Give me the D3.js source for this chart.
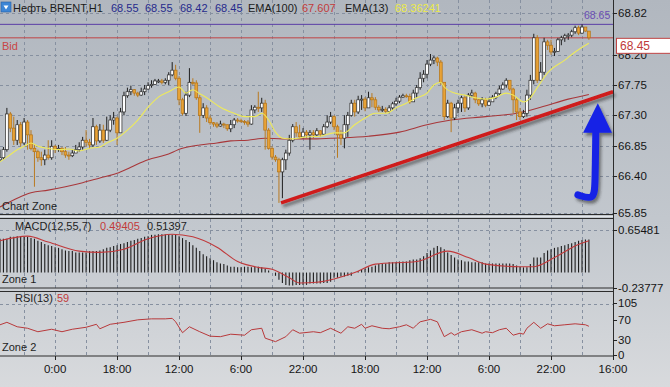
<!DOCTYPE html>
<html>
<head>
<meta charset="utf-8">
<script src="https://cdn.jsdelivr.net/npm/d3@7"></script>
<style>
  body { margin: 0; background: #c6cad0; }
  svg { display: block; }
  text { font-family: 'Liberation Sans', Arial, sans-serif; }
  .ax { font-family: 'Liberation Sans Narrow', 'Liberation Sans', Arial, sans-serif; font-size: 11.5px; fill: #151515; }
</style>
</head>
<body>
<svg id="chart" width="670" height="387"></svg>
<script>
'use strict';

// hourly bars, Brent
var firstOpen = 66.64;
var closes = [66.67, 66.79, 67.32, 67.11, 66.93, 67.16, 66.89, 67.20, 67.01, 66.81,
  66.76, 66.67, 66.64, 66.71, 66.67, 66.84, 66.79, 66.81, 66.76, 66.71,
  66.70, 66.74, 66.79, 66.83, 66.93, 66.90, 66.86, 67.13, 66.92, 67.08,
  66.93, 67.08, 67.23, 67.26, 67.04, 67.35, 67.59, 67.65, 67.68, 67.63,
  67.60, 67.65, 67.69, 67.74, 67.76, 67.81, 67.81, 67.79, 67.82, 67.90,
  67.97, 67.85, 67.53, 67.33, 67.60, 67.79, 67.78, 67.56, 67.30, 67.41,
  67.26, 67.19, 67.17, 67.14, 67.17, 67.16, 67.10, 67.16, 67.23, 67.22,
  67.21, 67.20, 67.17, 67.38, 67.42, 67.41, 67.48, 67.08, 66.81, 66.68,
  66.64, 66.46, 66.64, 66.74, 66.93, 67.13, 67.04, 66.98, 67.05, 67.01,
  67.04, 67.01, 67.07, 67.02, 67.13, 67.20, 67.28, 67.13, 67.01, 66.96,
  67.16, 67.30, 67.48, 67.35, 67.53, 67.54, 67.41, 67.56, 67.53, 67.42,
  67.38, 67.39, 67.36, 67.41, 67.47, 67.51, 67.57, 67.59, 67.58, 67.50,
  67.63, 67.71, 67.85, 67.91, 68.06, 68.12, 68.15, 68.09, 67.79, 67.28,
  67.48, 67.26, 67.41, 67.48, 67.56, 67.41, 67.60, 67.63, 67.53, 67.47,
  67.53, 67.45, 67.50, 67.57, 67.62, 67.69, 67.75, 67.82, 67.69, 67.53,
  67.35, 67.28, 67.33, 67.60, 67.82, 68.45, 67.82, 67.94, 68.39, 68.34,
  68.24, 68.25, 68.42, 68.45, 68.48, 68.49, 68.54, 68.60, 68.52, 68.61,
  68.55, 68.45];
var highs = [66.79, 66.83, 67.41, 67.35, 67.28, 67.23, 67.20, 67.26, 67.23, 67.08,
  66.87, 66.79, 66.76, 66.79, 66.93, 66.93, 66.86, 66.86, 66.83, 66.83,
  66.76, 66.79, 66.86, 66.90, 66.98, 67.08, 66.95, 67.26, 67.16, 67.17,
  67.16, 67.28, 67.30, 67.35, 67.28, 67.41, 67.65, 67.71, 67.74, 67.69,
  67.65, 67.71, 67.75, 67.79, 67.82, 67.84, 67.84, 67.84, 67.85, 67.94,
  68.09, 68.05, 67.88, 67.56, 67.65, 68.00, 67.85, 67.82, 67.60, 67.48,
  67.45, 67.30, 67.20, 67.20, 67.22, 67.19, 67.16, 67.23, 67.26, 67.26,
  67.25, 67.23, 67.23, 67.45, 67.45, 67.65, 67.56, 67.53, 67.11, 66.84,
  66.71, 66.67, 66.67, 66.79, 67.01, 67.17, 67.20, 67.16, 67.11, 67.08,
  67.08, 67.08, 67.11, 67.08, 67.17, 67.30, 67.35, 67.30, 67.16, 67.08,
  67.30, 67.35, 67.53, 67.53, 67.59, 67.60, 67.57, 67.65, 67.63, 67.57,
  67.45, 67.44, 67.42, 67.45, 67.50, 67.56, 67.60, 67.62, 67.62, 67.62,
  67.68, 67.75, 67.94, 67.97, 68.12, 68.21, 68.18, 68.17, 68.12, 67.79,
  67.53, 67.50, 67.47, 67.53, 67.59, 67.60, 67.63, 67.68, 67.65, 67.54,
  67.57, 67.56, 67.56, 67.60, 67.65, 67.74, 67.79, 67.85, 67.82, 67.71,
  67.57, 67.41, 67.38, 67.68, 67.90, 68.51, 68.49, 68.09, 68.45, 68.42,
  68.42, 68.30, 68.45, 68.48, 68.51, 68.52, 68.57, 68.63, 68.63, 68.65,
  68.61, 68.55];
var lows = [66.61, 66.64, 66.76, 67.05, 66.86, 66.86, 66.84, 66.86, 66.79, 66.78,
  66.24, 66.61, 66.55, 66.56, 66.64, 66.64, 66.74, 66.76, 66.71, 66.67,
  66.64, 66.68, 66.74, 66.76, 66.79, 66.84, 66.80, 66.83, 66.86, 66.89,
  66.89, 66.92, 67.05, 67.16, 66.86, 67.04, 67.30, 67.56, 67.60, 67.59,
  67.57, 67.59, 67.60, 67.68, 67.71, 67.75, 67.78, 67.76, 67.76, 67.75,
  67.88, 67.82, 67.45, 67.30, 67.29, 67.57, 67.75, 67.53, 67.04, 67.26,
  67.20, 67.16, 67.13, 67.11, 67.13, 67.11, 67.07, 67.05, 67.11, 67.19,
  67.19, 67.16, 67.13, 67.16, 67.33, 67.35, 67.35, 66.79, 66.79, 66.64,
  66.61, 66.00, 66.07, 66.49, 66.70, 66.90, 66.98, 66.95, 66.96, 66.96,
  66.79, 66.96, 66.98, 66.98, 67.01, 67.11, 67.17, 67.08, 66.67, 66.86,
  66.81, 66.98, 67.28, 67.28, 67.32, 67.38, 67.36, 67.41, 67.42, 67.38,
  67.35, 67.35, 67.33, 67.33, 67.38, 67.44, 67.48, 67.56, 67.56, 67.47,
  67.50, 67.56, 67.68, 67.79, 67.85, 68.03, 68.06, 68.03, 67.75, 67.23,
  67.26, 67.05, 67.23, 67.33, 67.35, 67.35, 67.38, 67.57, 67.48, 67.44,
  67.42, 67.42, 67.44, 67.50, 67.54, 67.59, 67.68, 67.71, 67.66, 67.33,
  67.23, 67.23, 67.26, 67.28, 67.53, 67.76, 67.78, 67.82, 67.90, 68.27,
  68.20, 68.18, 68.24, 68.34, 68.39, 68.42, 68.46, 68.51, 68.49, 68.51,
  68.54, 68.42];

// moving averages read as [bar, price]
var ema13 = [[0, 66.61], [2, 66.68], [5, 66.79], [7, 66.84], [9, 66.89], [11, 66.84], [14, 66.81],
  [17, 66.79], [20, 66.80], [23, 66.77], [26, 66.81], [29, 66.83], [31, 66.89], [34, 66.96],
  [37, 67.08], [40, 67.23], [43, 67.42], [46, 67.57], [49, 67.65], [52, 67.72], [54, 67.63],
  [56, 67.68], [58, 67.62], [60, 67.56], [64, 67.42], [68, 67.33], [71, 67.28], [74, 67.28],
  [76, 67.33], [78, 67.23], [80, 67.05], [82, 66.96], [85, 66.95], [89, 66.98], [93, 66.99],
  [97, 67.04], [100, 67.04], [103, 67.16], [106, 67.26], [109, 67.33], [112, 67.33], [115, 67.41],
  [118, 67.48], [121, 67.56], [124, 67.63], [126, 67.75], [128, 67.79], [129, 67.72], [132, 67.63],
  [135, 67.60], [138, 67.56], [141, 67.54], [144, 67.57], [147, 67.63], [149, 67.60], [152, 67.50],
  [154, 67.56], [156, 67.71], [159, 67.93], [164, 68.12], [167, 68.24], [170, 68.34], [171, 68.37]];
var ema100 = [[0, 65.94], [5, 66.07], [9, 66.15], [14, 66.19], [19, 66.24], [24, 66.30], [29, 66.37],
  [34, 66.44], [38, 66.53], [43, 66.64], [48, 66.71], [53, 66.81], [58, 66.86], [63, 66.89],
  [67, 66.92], [72, 66.93], [77, 66.96], [82, 66.95], [87, 66.95], [92, 66.95], [96, 66.96],
  [107, 66.99], [116, 67.05], [124, 67.16], [131, 67.23], [141, 67.28], [150, 67.33], [157, 67.42],
  [165, 67.54], [171, 67.61]];

var macdHist = [0.52, 0.52, 0.52, 0.55, 0.55, 0.56, 0.56, 0.55, 0.55, 0.53,
  0.52, 0.49, 0.47, 0.44, 0.42, 0.41, 0.39, 0.38, 0.36, 0.34,
  0.33, 0.33, 0.31, 0.31, 0.31, 0.31, 0.33, 0.33, 0.33, 0.34,
  0.36, 0.38, 0.39, 0.41, 0.42, 0.44, 0.45, 0.47, 0.49, 0.50,
  0.52, 0.53, 0.55, 0.56, 0.58, 0.58, 0.59, 0.59, 0.59, 0.59,
  0.58, 0.58, 0.56, 0.53, 0.50, 0.47, 0.42, 0.38, 0.33, 0.28,
  0.25, 0.22, 0.19, 0.16, 0.14, 0.13, 0.11, 0.09, 0.09, 0.08,
  0.08, 0.09, 0.09, 0.08, 0.09, 0.09, 0.08, 0.06, 0.03, 0.00,
  -0.05, -0.11, -0.16, -0.19, -0.20, -0.20, -0.19, -0.19, -0.19, -0.19,
  -0.17, -0.17, -0.17, -0.17, -0.16, -0.16, -0.14, -0.08, -0.08, -0.06,
  -0.06, -0.05, -0.05, 0.00, 0.02, 0.05, 0.06, 0.08, 0.09, 0.11,
  0.13, 0.14, 0.14, 0.16, 0.16, 0.16, 0.17, 0.17, 0.17, 0.19,
  0.20, 0.20, 0.22, 0.25, 0.30, 0.34, 0.38, 0.41, 0.39, 0.36,
  0.31, 0.27, 0.23, 0.20, 0.19, 0.17, 0.17, 0.16, 0.16, 0.16,
  0.16, 0.14, 0.14, 0.14, 0.14, 0.14, 0.14, 0.14, 0.14, 0.13,
  0.11, 0.09, 0.08, 0.08, 0.13, 0.23, 0.23, 0.23, 0.30, 0.34,
  0.36, 0.38, 0.39, 0.41, 0.42, 0.44, 0.45, 0.47, 0.49, 0.50,
  0.51, 0.51];
var macdSignal = [[0, 0.49], [8, 0.56], [14, 0.47], [23, 0.33], [29, 0.31], [36, 0.36], [43, 0.52],
  [50, 0.59], [56, 0.55], [63, 0.39], [69, 0.17], [75, 0.08], [79, 0.05], [84, -0.08], [87, -0.16],
  [92, -0.15], [97, -0.10], [103, 0.00], [109, 0.13], [121, 0.17], [130, 0.33], [136, 0.23],
  [141, 0.13], [151, 0.09], [155, 0.09], [161, 0.23], [167, 0.41], [171, 0.49]];

var rsi = [[0, 61], [2, 66], [5, 57], [8, 54], [11, 47], [15, 52], [18, 47], [21, 52], [25, 56], [28, 62],
  [29, 53], [32, 62], [36, 66], [40, 71], [44, 73], [48, 73], [50, 74], [51, 67], [53, 45], [55, 57],
  [58, 47], [61, 38], [64, 37], [67, 42], [71, 40], [73, 51], [76, 54], [77, 34], [80, 27], [83, 37],
  [85, 51], [87, 44], [91, 47], [93, 45], [96, 54], [99, 44], [101, 57], [103, 54], [105, 62], [106, 54],
  [108, 59], [111, 54], [113, 53], [116, 57], [118, 61], [120, 54], [121, 61], [122, 67], [125, 72],
  [127, 67], [129, 37], [131, 45], [132, 40], [134, 47], [137, 51], [140, 44], [141, 47], [143, 45],
  [145, 51], [147, 54], [149, 40], [151, 44], [152, 42], [153, 54], [155, 66], [157, 54], [159, 63],
  [161, 59], [164, 61], [167, 63], [170, 61], [171, 58]];

var priceTicks = [68.82, 68.20, 67.75, 67.30, 66.85, 66.40, 65.85];
var macdTicks = [0.65481, -0.23777];
var rsiTicks = [105, 70, 30, 0];
var timeLabels = ['0:00', '18:00', '12:00', '6:00', '22:00', '18:00', '12:00', '6:00', '22:00', '16:00'];
var timeBars = [16, 34, 52, 70, 88, 106, 124, 142, 160, 178];
var gridBars = [7, 16, 25, 34, 43, 52, 61, 70, 79, 88, 97, 106, 115, 124, 133, 142, 151, 160, 169];

var highLine = 68.65;
var bidPrice = 68.45;
var supportLine = [[81.6, 66.00], [178, 67.65]];
var resistanceLine = [[151, 68.65], [178.6, 68.65]];
var arrowShaft = [[173.0, 67.04], [172.8, 66.27], [172.5, 66.04], [167.8, 66.12]];
var arrowHead = [[173.6, 67.48], [169.3, 67.04], [177.7, 67.04]];

var headerItems = [
  { t: 'Нефть BRENT,H1', x: 13, c: '#1b1b1b' },
  { t: '68.55', x: 111, c: '#262a8c' },
  { t: '68.55', x: 145, c: '#262a8c' },
  { t: '68.42', x: 180, c: '#262a8c' },
  { t: '68.45', x: 215, c: '#262a8c' },
  { t: 'EMA(100)', x: 248, c: '#1b1b1b' },
  { t: '67.607', x: 302, c: '#c23a3a' },
  { t: 'EMA(13)', x: 345, c: '#1b1b1b' },
  { t: '68.36241', x: 395, c: '#ecea4a' }
];

var W = 670, H = 387, axisX = 613;
var svg = d3.select('#chart');
var defs = svg.append('defs');
var bg = defs.append('linearGradient').attr('id', 'bg').attr('x1', 0).attr('y1', 0).attr('x2', 0).attr('y2', 1);
bg.append('stop').attr('offset', 0).attr('stop-color', '#b1b7bf');
bg.append('stop').attr('offset', 0.6).attr('stop-color', '#c3c8ce');
bg.append('stop').attr('offset', 1).attr('stop-color', '#d8dadd');
var sh = defs.append('filter').attr('id', 'shadow').attr('x', '-20%').attr('y', '-20%').attr('width', '140%').attr('height', '160%');
sh.append('feDropShadow').attr('dx', 2).attr('dy', 3).attr('stdDeviation', 1.6).attr('flood-color', '#2a2a2a').attr('flood-opacity', 0.55);
defs.append('clipPath').attr('id', 'mainClip').append('rect').attr('x', 0).attr('y', 0).attr('width', axisX).attr('height', 214);

svg.append('rect').attr('width', W).attr('height', H).attr('fill', 'url(#bg)');

var x = d3.scaleLinear().domain([0, 178]).range([0, axisX]);
var yP = d3.scaleLinear().domain([65.85, 68.82]).range([213, 12.9]);
var yM = d3.scaleLinear().domain([-0.23777, 0.65481]).range([288, 230]);
var yR = d3.scaleLinear().domain([0, 105]).range([355, 303]);

var gridColor = '#8690a0';

// vertical grid in all three panels
[[0, 214], [219, 288], [292, 356]].forEach(function (p) {
  svg.append('g').selectAll('line').data(gridBars).join('line')
    .attr('x1', function (d) { return Math.round(x(d)) + 0.5; })
    .attr('x2', function (d) { return Math.round(x(d)) + 0.5; })
    .attr('y1', p[0]).attr('y2', p[1])
    .attr('stroke', gridColor).attr('stroke-dasharray', '3,3').attr('stroke-width', 1);
});

// horizontal grid
svg.append('g').selectAll('line').data(priceTicks).join('line')
  .attr('x1', 0).attr('x2', axisX)
  .attr('y1', function (d) { return Math.round(yP(d)) + 0.5; })
  .attr('y2', function (d) { return Math.round(yP(d)) + 0.5; })
  .attr('stroke', gridColor).attr('stroke-dasharray', '3,3');
svg.append('line').attr('x1', 0).attr('x2', axisX).attr('y1', Math.round(yM(macdTicks[0])) + 0.5).attr('y2', Math.round(yM(macdTicks[0])) + 0.5)
  .attr('stroke', gridColor).attr('stroke-dasharray', '3,3');
svg.append('line').attr('x1', 0).attr('x2', axisX).attr('y1', Math.round(yR(105)) + 1.5).attr('y2', Math.round(yR(105)) + 1.5)
  .attr('stroke', gridColor).attr('stroke-dasharray', '3,3');

// main panel
var main = svg.append('g').attr('clip-path', 'url(#mainClip)');

main.append('line').attr('x1', 0).attr('x2', axisX).attr('y1', yP(highLine)).attr('y2', yP(highLine))
  .attr('stroke', '#5a3ea6').attr('stroke-width', 1);
main.append('line').attr('x1', 0).attr('x2', axisX).attr('y1', yP(bidPrice)).attr('y2', yP(bidPrice))
  .attr('stroke', '#c04444').attr('stroke-width', 1);

var maLine = d3.line().x(function (d) { return x(d[0]); }).y(function (d) { return yP(d[1]); }).curve(d3.curveMonotoneX);
main.append('path').attr('d', maLine(ema100)).attr('fill', 'none').attr('stroke', '#a8373a').attr('stroke-width', 1.1);

var bars = closes.map(function (c, i) {
  var o = i === 0 ? firstOpen : closes[i - 1];
  return { i: i, o: o, c: c, h: Math.max(highs[i], o, c), l: Math.min(lows[i], o, c), up: c >= o };
});
var candles = main.append('g').selectAll('g').data(bars).join('g');
candles.append('line')
  .attr('x1', function (d) { return x(d.i); }).attr('x2', function (d) { return x(d.i); })
  .attr('y1', function (d) { return yP(d.h); }).attr('y2', function (d) { return yP(d.l); })
  .attr('stroke', function (d) { return d.up ? '#1e1e1e' : '#b97a20'; }).attr('stroke-width', 1);
candles.append('rect')
  .attr('x', function (d) { return x(d.i) - 1.4; }).attr('width', 2.8)
  .attr('y', function (d) { return yP(Math.max(d.o, d.c)); })
  .attr('height', function (d) { return Math.max(1, Math.abs(yP(d.o) - yP(d.c))); })
  .attr('fill', function (d) { return d.up ? '#ffffff' : '#e8a236'; })
  .attr('stroke', function (d) { return d.up ? '#2a2a2a' : '#b27318'; }).attr('stroke-width', 0.7);

main.append('path').attr('d', maLine(ema13)).attr('fill', 'none').attr('stroke', '#eeea5a').attr('stroke-width', 1.1);

var straight = d3.line().x(function (d) { return x(d[0]); }).y(function (d) { return yP(d[1]); });
svg.append('path').attr('d', straight(supportLine)).attr('stroke', '#cf1a1a').attr('stroke-width', 3.6)
  .attr('fill', 'none').attr('filter', 'url(#shadow)');
svg.append('path').attr('d', straight(resistanceLine)).attr('stroke', '#cf1a1a').attr('stroke-width', 3)
  .attr('fill', 'none').attr('filter', 'url(#shadow)');

var arrow = svg.append('g').attr('filter', 'url(#shadow)');
arrow.append('path').attr('d', d3.line().x(function (d) { return x(d[0]); }).y(function (d) { return yP(d[1]); }).curve(d3.curveBasis)(arrowShaft))
  .attr('fill', 'none').attr('stroke', '#1424e6').attr('stroke-width', 7).attr('stroke-linecap', 'round');
arrow.append('path').attr('d', straight(arrowHead) + 'Z').attr('fill', '#1424e6');

// MACD
svg.append('g').selectAll('line').data(macdHist).join('line')
  .attr('x1', function (d, i) { return x(i); }).attr('x2', function (d, i) { return x(i); })
  .attr('y1', yM(0)).attr('y2', function (d) { return yM(d); })
  .attr('stroke', '#1c1c1c').attr('stroke-width', 1.1);
var mLine = d3.line().x(function (d) { return x(d[0]); }).y(function (d) { return yM(d[1]); }).curve(d3.curveMonotoneX);
svg.append('path').attr('d', mLine(macdSignal)).attr('fill', 'none').attr('stroke', '#c0393b').attr('stroke-width', 1.1);

// RSI
var rLine = d3.line().x(function (d) { return x(d[0]); }).y(function (d) { return yR(d[1]); });
svg.append('path').attr('d', rLine(rsi)).attr('fill', 'none').attr('stroke', '#b8393b').attr('stroke-width', 1);

// frames
svg.append('line').attr('x1', 0).attr('x2', axisX).attr('y1', 214.5).attr('y2', 214.5).attr('stroke', '#2c2c2c');
svg.append('line').attr('x1', 0).attr('x2', axisX).attr('y1', 216.5).attr('y2', 216.5).attr('stroke', '#e4e6e8');
svg.append('rect').attr('x', -1).attr('y', 218.5).attr('width', axisX + 1.5).attr('height', 69.5).attr('fill', 'none').attr('stroke', '#2c2c2c');
svg.append('rect').attr('x', -1).attr('y', 291.5).attr('width', axisX + 1.5).attr('height', 64.5).attr('fill', 'none').attr('stroke', '#2c2c2c');
svg.append('line').attr('x1', axisX + 0.5).attr('x2', axisX + 0.5).attr('y1', 0).attr('y2', 356).attr('stroke', '#2c2c2c');

// right axes
function rightAxis(scale, ticks, fmt) {
  var g = svg.append('g');
  g.selectAll('line').data(ticks).join('line')
    .attr('x1', axisX).attr('x2', axisX + 4)
    .attr('y1', function (d) { return Math.round(scale(d)) + 0.5; }).attr('y2', function (d) { return Math.round(scale(d)) + 0.5; })
    .attr('stroke', '#222');
  g.selectAll('text').data(ticks).join('text').attr('class', 'ax')
    .attr('x', axisX + 5).attr('y', function (d) { return scale(d) + 4; })
    .text(fmt);
}
rightAxis(yP, priceTicks, function (d) { return d.toFixed(2); });
rightAxis(yM, macdTicks, function (d) { return d.toFixed(5); });
rightAxis(yR, rsiTicks, function (d) { return d; });

// bid box
svg.append('rect').attr('x', 616.5).attr('y', yP(bidPrice) + 0.5).attr('width', 60).attr('height', 15)
  .attr('fill', '#ffffff').attr('stroke', '#c04444');
svg.append('text').attr('x', 620).attr('y', yP(bidPrice) + 12.5).attr('fill', '#c03a3a')
  .attr('font-size', '12px').text(bidPrice.toFixed(2));
svg.append('text').attr('x', 584).attr('y', 19).attr('fill', '#6a4db4').attr('font-size', '10.5px').text(highLine.toFixed(2));

// time axis
svg.append('g').selectAll('text').data(timeLabels).join('text').attr('class', 'ax')
  .attr('x', function (d, i) { return x(timeBars[i]); }).attr('y', 373).attr('text-anchor', 'middle')
  .text(function (d) { return d; });
svg.append('g').selectAll('line').data(timeBars).join('line')
  .attr('x1', function (d) { return Math.round(x(d)) + 0.5; }).attr('x2', function (d) { return Math.round(x(d)) + 0.5; })
  .attr('y1', 356).attr('y2', 360).attr('stroke', '#222');

// header and labels
svg.append('rect').attr('x', 1).attr('y', 2).attr('width', 10).attr('height', 10).attr('fill', '#3d86d6').attr('stroke', '#2a5ea0').attr('stroke-width', 0.6);
svg.append('path').attr('d', 'M3.5,5.5 L8.5,5.5 L6,9.5 Z').attr('fill', '#ffffff');
svg.append('g').selectAll('text').data(headerItems).join('text')
  .attr('x', function (d) { return d.x; }).attr('y', 12).attr('font-size', '11px')
  .attr('fill', function (d) { return d.c; }).text(function (d) { return d.t; });

svg.append('text').attr('x', 2).attr('y', 50).attr('font-size', '11px').attr('fill', '#c84646').text('Bid');
svg.append('text').attr('x', 2).attr('y', 210).attr('font-size', '11px').attr('fill', '#1e1e1e').text('Chart Zone');
svg.append('text').attr('x', 2).attr('y', 283).attr('font-size', '11px').attr('fill', '#1e1e1e').text('Zone 1');
svg.append('text').attr('x', 2).attr('y', 351).attr('font-size', '11px').attr('fill', '#1e1e1e').text('Zone 2');

var macdTitle = svg.append('text').attr('x', 15).attr('y', 230).attr('font-size', '11px');
macdTitle.append('tspan').attr('fill', '#1e1e1e').text('MACD(12,55,7)');
macdTitle.append('tspan').attr('x', 100).attr('fill', '#c23a3a').text('0.49405');
macdTitle.append('tspan').attr('x', 147).attr('fill', '#1e1e1e').text('0.51397');
var rsiTitle = svg.append('text').attr('x', 15).attr('y', 302).attr('font-size', '11px');
rsiTitle.append('tspan').attr('fill', '#1e1e1e').text('RSI(13)');
rsiTitle.append('tspan').attr('x', 57).attr('fill', '#c23a3a').text('59');
</script>
</body>
</html>
